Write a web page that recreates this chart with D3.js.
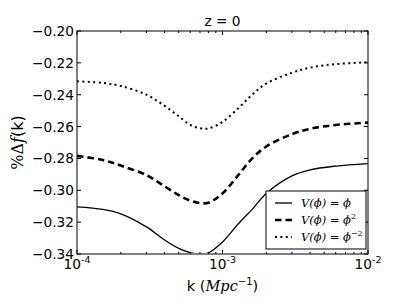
<!DOCTYPE html>
<html>
<head>
<meta charset="utf-8">
<title>z = 0</title>
<style>
  body { margin: 0; background: #fff; }
  text { font-family: "DejaVu Sans", sans-serif; fill: #000; }
  .math { font-family: "DejaVu Serif", "Liberation Serif", serif; font-style: italic; }
</style>
<script src="https://d3js.org/d3.v7.min.js"></script>
</head>
<body>
<svg width="409" height="307"></svg>
<script>
// k values (Mpc^-1) and the three series
var kValues = [1e-4, 1.5e-4, 2e-4, 3e-4, 4e-4, 5e-4, 6e-4, 7e-4, 8e-4, 1e-3,
               1.3e-3, 1.6e-3, 2e-3, 3e-3, 4e-3, 6e-3, 1e-2];
var linearPhi = [-0.3104, -0.3120, -0.3148, -0.3230, -0.3312, -0.3365, -0.3392, -0.3400, -0.3393, -0.3325,
                 -0.3205, -0.3120, -0.3020, -0.2910, -0.2872, -0.2848, -0.2832];
var squarePhi = [-0.2784, -0.2810, -0.2845, -0.2905, -0.2975, -0.3030, -0.3065, -0.3080, -0.3078, -0.3020,
                 -0.2898, -0.2800, -0.2725, -0.2648, -0.2614, -0.2590, -0.2575];
var inversePhi = [-0.2316, -0.2326, -0.2345, -0.2400, -0.2470, -0.2535, -0.2590, -0.2610, -0.2612, -0.2571,
                  -0.2480, -0.2400, -0.2330, -0.2262, -0.2230, -0.2208, -0.2196];
var yTicks = [-0.34, -0.32, -0.30, -0.28, -0.26, -0.24, -0.22, -0.20];
var xTicks = [1e-4, 1e-3, 1e-2];
var xTickExp = ["-4", "-3", "-2"];

var svg = d3.select("svg");
var pL = 77, pR = 368, pT = 31, pB = 254;

var x = d3.scaleLog().domain([1e-4, 1e-2]).range([pL, pR]);
var y = d3.scaleLinear().domain([-0.34, -0.20]).range([pB, pT]);

var series = [
  {vals: linearPhi, width: 1.3, dash: null, sup: ""},
  {vals: squarePhi, width: 2.6, dash: "6.5,4", sup: "2"},
  {vals: inversePhi, width: 2, dash: "2,3.4", sup: "\u22122"}
];

var line = d3.line()
  .x(function(d) { return x(d[0]); })
  .y(function(d) { return y(d[1]); })
  .curve(d3.curveCatmullRom.alpha(0.5));

var plot = svg.append("g");
plot.append("clipPath").attr("id", "clip")
  .append("rect").attr("x", pL).attr("y", pT - 2)
  .attr("width", pR - pL).attr("height", pB - pT + 1);

series.forEach(function(s) {
  plot.append("path")
    .datum(kValues.map(function(k, i) { return [k, s.vals[i]]; }))
    .attr("d", line)
    .attr("clip-path", "url(#clip)")
    .attr("fill", "none")
    .attr("stroke", "#000")
    .attr("stroke-width", s.width)
    .attr("stroke-dasharray", s.dash);
});

// y ticks, inside, both sides
var ytick = svg.append("g");
yTicks.forEach(function(t) {
  ytick.append("line").attr("x1", pL).attr("x2", pL + 4)
    .attr("y1", y(t)).attr("y2", y(t)).attr("stroke", "#000");
  ytick.append("line").attr("x1", pR).attr("x2", pR - 4)
    .attr("y1", y(t)).attr("y2", y(t)).attr("stroke", "#000");
  ytick.append("text").attr("x", pL - 3).attr("y", y(t) + 5)
    .attr("text-anchor", "end").attr("font-size", 13.7)
    .text(d3.format(".2f")(t).replace("-", "\u2212"));
});

// x ticks, major and minor, bottom and top
var xtick = svg.append("g");
var minor = [];
[1e-4, 1e-3].forEach(function(d) { for (var m = 2; m < 10; m++) minor.push(d * m); });
minor.forEach(function(t) {
  xtick.append("line").attr("x1", x(t)).attr("x2", x(t))
    .attr("y1", pB).attr("y2", pB - 2).attr("stroke", "#000");
  xtick.append("line").attr("x1", x(t)).attr("x2", x(t))
    .attr("y1", pT).attr("y2", pT + 2).attr("stroke", "#000");
});
xTicks.forEach(function(t, i) {
  xtick.append("line").attr("x1", x(t)).attr("x2", x(t))
    .attr("y1", pB).attr("y2", pB - 4).attr("stroke", "#000");
  xtick.append("line").attr("x1", x(t)).attr("x2", x(t))
    .attr("y1", pT).attr("y2", pT + 4).attr("stroke", "#000");
  var lab = xtick.append("text").attr("x", x(t)).attr("y", 269)
    .attr("text-anchor", "middle").attr("font-size", 13.7);
  lab.append("tspan").text("10");
  lab.append("tspan").attr("dy", -6).attr("font-size", 9.5).text(xTickExp[i]);
});

// frame
svg.append("rect").attr("x", pL).attr("y", pT)
  .attr("width", pR - pL).attr("height", pB - pT)
  .attr("fill", "none").attr("stroke", "#000").attr("stroke-width", 1);

// title
svg.append("text").attr("x", (pL + pR) / 2).attr("y", 26)
  .attr("text-anchor", "middle").attr("font-size", 13.7).text("z = 0");

// x label
var xl = svg.append("text").attr("x", (pL + pR) / 2).attr("y", 291)
  .attr("text-anchor", "middle").attr("font-size", 14.5);
xl.append("tspan").text("k (");
xl.append("tspan").attr("class", "math").text("Mpc");
xl.append("tspan").attr("dy", -6).attr("font-size", 10).text("\u22121");
xl.append("tspan").attr("dy", 6).text(")");

// y label
var yl = svg.append("text")
  .attr("transform", "translate(23," + ((pT + pB) / 2) + ") rotate(-90)")
  .attr("text-anchor", "middle").attr("font-size", 16);
yl.append("tspan").style("font-family", "DejaVu Serif, serif").text("%\u0394");
yl.append("tspan").attr("class", "math").text("f");
yl.append("tspan").text("(k)");

// legend
var lg = svg.append("g");
lg.append("rect").attr("x", 266).attr("y", 191).attr("width", 100).attr("height", 58)
  .attr("fill", "#fff").attr("stroke", "#000").attr("stroke-width", 1);
var rowY = [203, 220, 237];
series.forEach(function(s, i) {
  lg.append("line").attr("x1", 275).attr("x2", 292)
    .attr("y1", rowY[i]).attr("y2", rowY[i])
    .attr("stroke", "#000").attr("stroke-width", s.width)
    .attr("stroke-dasharray", s.dash);
  var t = lg.append("text").attr("x", 301).attr("y", rowY[i] + 4)
    .attr("font-size", 11.5).attr("class", "math");
  t.append("tspan").text("V(\u03d5) = \u03d5");
  if (s.sup) t.append("tspan").attr("dy", -5).attr("font-size", 8)
    .style("font-style", "normal").text(s.sup);
});
</script>
</body>
</html>
